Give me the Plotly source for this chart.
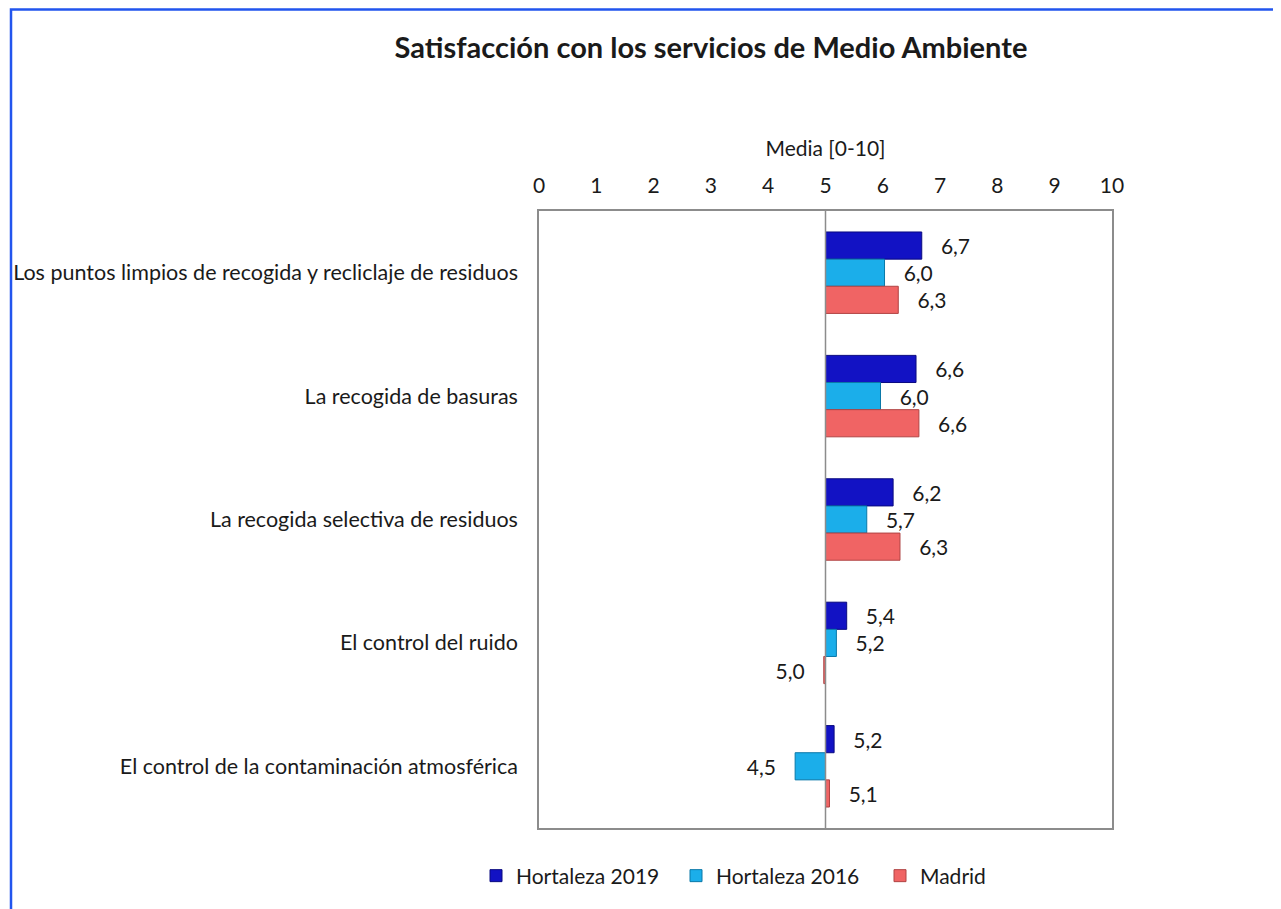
import plotly.graph_objects as go
import numpy as np

categories = [
    "Los puntos limpios de recogida y recliclaje de residuos",
    "La recogida de basuras",
    "La recogida selectiva de residuos",
    "El control del ruido",
    "El control de la contaminación atmosférica",
]
hortaleza_2019 = [6.68, 6.58, 6.18, 5.37, 5.15]
hortaleza_2016 = [6.03, 5.96, 5.72, 5.19, 4.47]
madrid = [6.27, 6.63, 6.30, 4.97, 5.07]
series_names = ["Hortaleza 2019", "Hortaleza 2016", "Madrid"]
colors = ["#1212C4", "#1BAEEA", "#F06464"]
edge_colors = ["#0A0A80", "#0A78A8", "#B04444"]
ticks = list(range(0, 11))

OFF = 8  # default page body margin
W, H = 1281 - OFF, 909 - OFF
L, R, T, B = 539 - OFF, 1112 - OFF, 211 - OFF, 828 - OFF
BASE = 5
GAP = "\u00a0\u00a0\u00a0"
legend_ids = ["legend", "legend2", "legend3"]
legend_page_x = [476, 676, 880]

fig = go.Figure()
for name, vals, c, ec, lid in zip(series_names, [hortaleza_2019, hortaleza_2016, madrid],
                                  colors, edge_colors, legend_ids):
    v = np.array(vals)
    labels = []
    for x in v:
        s = f"{x:.1f}".replace(".", ",")
        labels.append(GAP + s if x >= BASE else s + GAP)
    fig.add_trace(go.Bar(
        y=categories, x=v - BASE, base=BASE, orientation="h", name=name,
        marker=dict(color=c, line=dict(color=ec, width=1)),
        text=labels,
        textposition="outside", cliponaxis=False,
        textfont=dict(family="Lato", size=21, color="#1a1a1a"),
        hoverinfo="skip", legend=lid,
    ))

pw, ph = R - L, B - T
def px_x(x):
    return (x - OFF - L) / pw
def px_y(y):
    return (B - (y - OFF)) / ph

fig.add_shape(type="line", xref="x", yref="paper", x0=BASE, x1=BASE, y0=0, y1=1,
              line=dict(color="#8c8c8c", width=1.5))
fig.add_shape(type="rect", xref="paper", yref="paper",
              x0=px_x(11), x1=px_x(1320), y0=px_y(940), y1=px_y(OFF + 1.5),
              line=dict(color="#2255EE", width=2.5), layer="below")

legend_common = dict(orientation="h", xref="container", yref="container",
                     xanchor="left", y=1 - (876 - OFF) / H, yanchor="middle",
                     font=dict(size=21), itemwidth=30, bgcolor="rgba(0,0,0,0)")
legends = {lid: dict(legend_common, x=(px - OFF) / W) for lid, px in zip(legend_ids, legend_page_x)}

fig.update_layout(
    width=W, height=H,
    margin=dict(l=L, r=W - R, t=T, b=H - B, autoexpand=False),
    paper_bgcolor="white", plot_bgcolor="white",
    barmode="group", bargap=0.34, bargroupgap=0,
    font=dict(family="Lato", size=21, color="#1a1a1a"),
    title=dict(text="<b>Satisfacción con los servicios de Medio Ambiente</b>",
               x=px_x(711), xanchor="center", xref="paper",
               y=1 - (48 - OFF) / H, yanchor="middle", font=dict(size=29, family="Lato")),
    xaxis=dict(side="top", range=[0, 10], tickvals=ticks, ticktext=[str(t) for t in ticks],
               showgrid=False, zeroline=False, showline=True, mirror=True, automargin=False,
               linecolor="#8c8c8c", linewidth=1.5, ticks="", ticklabelstandoff=8,
               title=dict(text="Media [0-10]", standoff=9, font=dict(size=21)),
               tickfont=dict(size=21)),
    yaxis=dict(autorange="reversed", showgrid=False, zeroline=False, showline=True,
               mirror=True, automargin=False, linecolor="#8c8c8c", linewidth=1.5, ticks="",
               tickfont=dict(size=21.5), ticklabelstandoff=15),
    showlegend=True,
    **legends,
)

fig.write_html("out.html")
